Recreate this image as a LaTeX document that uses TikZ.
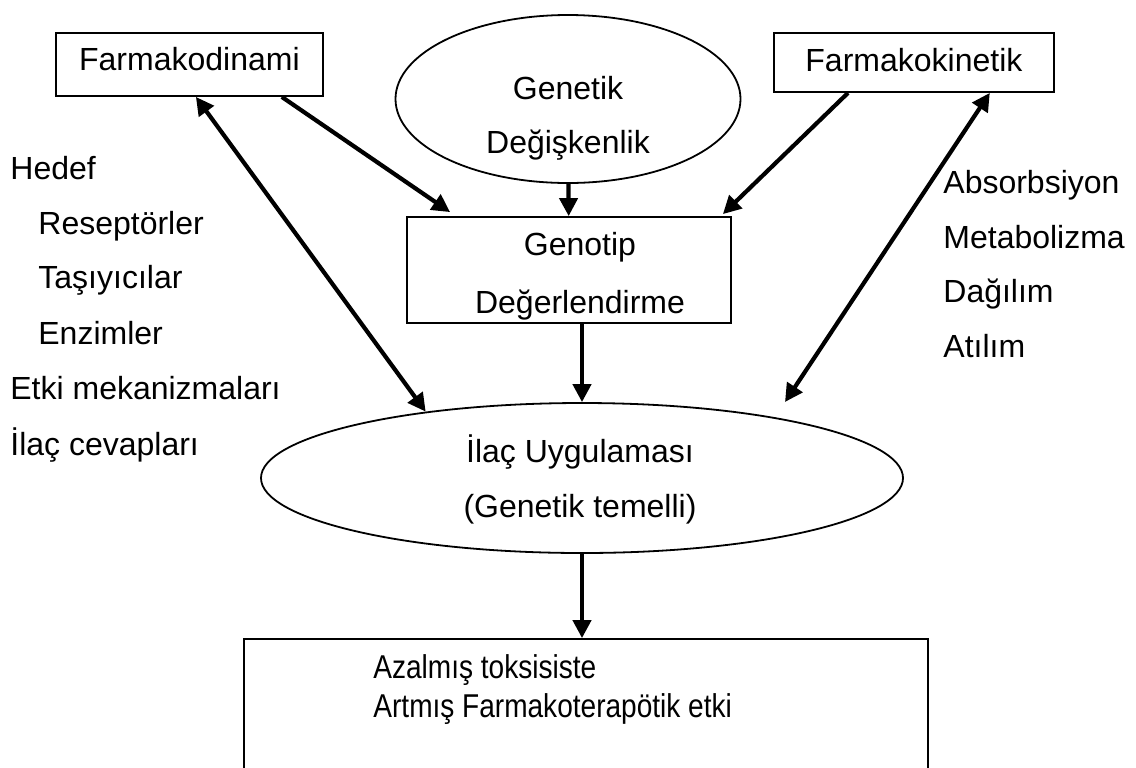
\documentclass[tikz,border=0pt]{standalone}
\usepackage{fontspec}
\setmainfont{Liberation Sans}
\newfontfamily\narrowfont[FakeStretch=0.85]{Liberation Sans}
\usepackage{tikz}
\usetikzlibrary{arrows.meta, shapes.geometric}
\tikzset{
    block/.style={rectangle, draw, line width=0.9pt, inner sep=0pt},
    oval/.style={ellipse, draw, line width=0.9pt, inner sep=0pt},
    arrow/.style={line width=2.1pt, -{Triangle[length=9pt, width=9pt]}},
    darrow/.style={line width=2.1pt, {Triangle[length=9pt, width=9pt]}-{Triangle[length=9pt, width=9pt]}},
    txt/.style={inner sep=0pt, font=\fontsize{16}{19.5}\selectfont}
}

\begin{document}
\begin{tikzpicture}[x=0.5pt, y=-0.5pt]
    \useasboundingbox (0,0) rectangle (1136,767);
    \clip (0,0) rectangle (1136,767);

    % top row
    \node[block, txt, anchor=base west, inner xsep=8.5pt, minimum width=133.5pt,
          text height=18.5pt, text depth=13pt] (farmdin) at (55,70) {Farmakodinami};
    \node[oval, minimum width=172.5pt, minimum height=84pt] (genetik) at (568,99) {};
    \node[txt, anchor=base] (genetik1) at (568,99) {Genetik};
    \node[txt, anchor=base] (genetik2) at (568,153) {Değişkenlik};
    \node[block, txt, anchor=base west, inner xsep=8.5pt, minimum width=140pt,
          text height=19pt, text depth=10.5pt] (farmkin) at (773,71) {Farmakokinetik};

    % middle
    \node[block, minimum width=162pt, minimum height=53pt] (genotip) at (569,270) {};
    \node[txt, anchor=base] (genotip1) at (580,255) {Genotip};
    \node[txt, anchor=base] (genotip2) at (580,313) {Değerlendirme};

    \node[oval, minimum width=321pt, minimum height=75pt] (ilac) at (582,478) {};
    \node[txt, anchor=base] (ilac1) at (580,462) {İlaç Uygulaması};
    \node[txt, anchor=base] (ilac2) at (580,517) {(Genetik temelli)};

    % bottom
    \node[block, minimum width=342pt, minimum height=80.5pt] (sonuc) at (586,719.5) {};
    \node[txt, anchor=base west, font=\narrowfont\fontsize{16.5}{19.5}\selectfont] (sonuc1) at (373,678) {Azalmış toksisiste};
    \node[txt, anchor=base west, font=\narrowfont\fontsize{16.5}{19.5}\selectfont] (sonuc2) at (373,717) {Artmış Farmakoterapötik etki};

    % left list
    \node[txt, anchor=base west] (hedef) at (10,179) {Hedef};
    \node[txt, anchor=base west] (resept) at (38,234) {Reseptörler};
    \node[txt, anchor=base west] (tasiyici) at (38,288) {Taşıyıcılar};
    \node[txt, anchor=base west] (enzim) at (38,344) {Enzimler};
    \node[txt, anchor=base west] (etki) at (10,399) {Etki mekanizmaları};
    \node[txt, anchor=base west] (cevap) at (10,455) {İlaç cevapları};

    % right list
    \node[txt, anchor=base west] (absorb) at (943,193) {Absorbsiyon};
    \node[txt, anchor=base west] (metab) at (943,248) {Metabolizma};
    \node[txt, anchor=base west] (dagilim) at (943,302) {Dağılım};
    \node[txt, anchor=base west] (atilim) at (943,357) {Atılım};

    \coordinate (kinend) at (785,402);

    % arrows
    \draw[darrow] ([xshift=3.25pt]farmdin.south) -- (ilac.157);
    \draw[arrow] ([xshift=-21pt]farmdin.south east) -- ([xshift=22pt, yshift=2pt]genotip.north west);
    \draw[arrow] (genetik) -- (genotip);
    \draw[arrow] ([xshift=37.5pt]farmkin.south west) -- ([xshift=-4.5pt, yshift=1pt]genotip.north east);
    \draw[darrow] ([xshift=-32.5pt]farmkin.south east) -- (kinend);
    \draw[arrow] ([xshift=6.5pt]genotip.south) -- (ilac.north);
    \draw[arrow] (ilac.south) -- ([xshift=-2pt]sonuc.north);
\end{tikzpicture}
\end{document}
